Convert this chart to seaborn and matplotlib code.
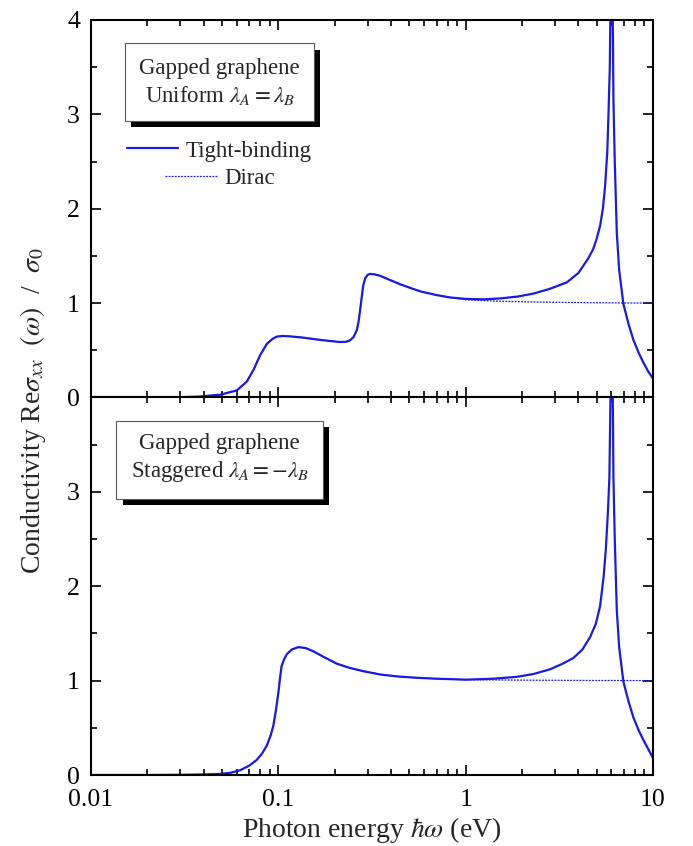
# %%
import numpy as np
import pandas as pd
import seaborn as sns
import matplotlib.pyplot as plt
import matplotlib.patheffects as pe
from matplotlib.ticker import AutoMinorLocator

# %%
# low-energy part, shared by tight-binding and Dirac (upper panel: uniform gap)
top_low_e = [0.01, 0.02, 0.03, 0.038, 0.049, 0.060, 0.068, 0.074, 0.080, 0.087,
             0.093, 0.098, 0.105, 0.115, 0.135, 0.160, 0.190, 0.213, 0.230, 0.241,
             0.252, 0.262, 0.268, 0.273, 0.279, 0.284, 0.292, 0.300, 0.309, 0.325,
             0.349, 0.40, 0.447, 0.50, 0.571, 0.70, 0.826]
top_low_s = [0.0, 0.0, 0.003, 0.01, 0.03, 0.075, 0.17, 0.30, 0.45, 0.57,
             0.62, 0.645, 0.652, 0.648, 0.635, 0.615, 0.598, 0.588, 0.590, 0.605,
             0.64, 0.71, 0.80, 0.92, 1.07, 1.19, 1.27, 1.30, 1.31, 1.305,
             1.29, 1.24, 1.20, 1.165, 1.125, 1.085, 1.06]

# high-energy part, tight-binding (van Hove peak near 6 eV)
top_tb_e = [1.0, 1.25, 1.53, 1.9, 2.29, 2.8, 3.47, 4.0, 4.5, 4.79, 5.0, 5.22,
            5.4, 5.55, 5.7, 5.78, 5.88, 5.97, 6.03, 6.1, 6.15, 6.25, 6.41, 6.6,
            6.95, 7.4, 7.86, 8.4, 8.89, 9.4, 10.0]
top_tb_s = [1.045, 1.04, 1.05, 1.07, 1.10, 1.15, 1.22, 1.32, 1.47, 1.57, 1.68, 1.82,
            2.0, 2.24, 2.6, 2.97, 3.5, 4.6, 6.0, 4.0, 3.15, 2.5, 1.74, 1.35,
            0.99, 0.78, 0.61, 0.47, 0.37, 0.28, 0.20]

# high-energy part, Dirac
top_dirac_e = [1.0, 1.5, 2.2, 3.2, 5.0, 7.0, 10.0]
top_dirac_s = [1.035, 1.02, 1.013, 1.008, 1.004, 1.002, 1.0]

# lower panel: staggered gap
bot_low_e = [0.01, 0.02, 0.03, 0.04, 0.049, 0.056, 0.0625, 0.070, 0.0767, 0.082,
             0.0867, 0.091, 0.094, 0.097, 0.100, 0.102, 0.104, 0.107, 0.111, 0.118,
             0.128, 0.140, 0.154, 0.175, 0.205, 0.24, 0.284, 0.35, 0.428, 0.55,
             0.70, 0.85]
bot_low_s = [0.0, 0.0, 0.002, 0.006, 0.012, 0.025, 0.05, 0.10, 0.16, 0.23,
             0.31, 0.42, 0.52, 0.68, 0.87, 1.02, 1.15, 1.22, 1.28, 1.33,
             1.355, 1.345, 1.31, 1.25, 1.18, 1.135, 1.10, 1.065, 1.045, 1.03,
             1.02, 1.015]

bot_tb_e = [1.0, 1.4, 1.87, 2.3, 2.82, 3.3, 3.76, 4.2, 4.61, 4.95, 5.22, 5.45,
            5.6, 5.75, 5.85, 5.95, 6.03, 6.1, 6.15, 6.25, 6.41, 6.6, 6.95, 7.4,
            7.86, 8.4, 8.89, 9.4, 10.0]
bot_tb_s = [1.01, 1.02, 1.04, 1.07, 1.12, 1.18, 1.24, 1.33, 1.46, 1.6, 1.79, 2.1,
            2.39, 2.8, 3.15, 4.2, 6.0, 4.0, 3.15, 2.5, 1.74, 1.35, 0.99, 0.78,
            0.61, 0.47, 0.37, 0.28, 0.18]

bot_dirac_e = [1.0, 2.0, 4.0, 10.0]
bot_dirac_s = [1.01, 1.005, 1.002, 1.0]

xticks = [0.01, 0.1, 1, 10]
xticklabels = ["0.01", "0.1", "1", "10"]
box_texts = ["Gapped graphene\nUniform $\\lambda_A = \\lambda_B$",
             "Gapped graphene\nStaggered $\\lambda_A = -\\lambda_B$"]

# %%
sns.set_style("ticks")
plt.rcParams["font.family"] = ["Liberation Serif", "DejaVu Serif"]
plt.rcParams["mathtext.fontset"] = "stix"

blue = "#1a1ae6"

fig, (ax1, ax2) = plt.subplots(2, 1, figsize=(6.93, 8.46), dpi=100, sharex=True)
fig.subplots_adjust(left=91 / 693, right=653 / 693, top=1 - 20 / 846,
                    bottom=1 - 775 / 846, hspace=0)

panels = [
    (ax1, top_low_e, top_low_s, top_tb_e, top_tb_s, top_dirac_e, top_dirac_s),
    (ax2, bot_low_e, bot_low_s, bot_tb_e, bot_tb_s, bot_dirac_e, bot_dirac_s),
]
box_y = [0.835, 0.838]

for i, (ax, le, ls, te, ts, de, ds) in enumerate(panels):
    dirac = pd.DataFrame({"e": le + de, "s": ls + ds})
    tb = pd.DataFrame({"e": le + te, "s": ls + ts})
    sns.lineplot(data=dirac, x="e", y="s", ax=ax, color=blue, lw=0.9,
                 linestyle=(0, (1.5, 1.0)), label="Dirac", legend=False)
    sns.lineplot(data=tb, x="e", y="s", ax=ax, color=blue, lw=1.6,
                 label="Tight-binding", legend=False)

    ax.set_xscale("log")
    ax.set_xlim(0.01, 10)
    ax.set_ylim(0, 4)
    ax.set_xlabel("")
    ax.set_ylabel("")
    ax.yaxis.set_minor_locator(AutoMinorLocator(2))
    ax.tick_params(which="both", direction="in", top=True, right=True,
                   labelsize=18.5, width=1.2, colors="black")
    ax.tick_params(which="major", length=7)
    ax.tick_params(which="minor", length=4)
    ax.tick_params(axis="y", pad=8)
    ax.tick_params(axis="x", pad=10)
    for sp in ax.spines.values():
        sp.set_linewidth(1.5)
        sp.set_color("black")

    t = ax.text(0.229, box_y[i], box_texts[i], transform=ax.transAxes,
                ha="center", va="center", fontsize=16.5, linespacing=1.3,
                bbox=dict(boxstyle="square,pad=0.62", fc="white", ec="0.35", lw=0.8))
    t.get_bbox_patch().set_path_effects([
        pe.SimplePatchShadow(offset=(4.5, -4.5), shadow_rgbFace="black", alpha=1.0),
        pe.Normal(),
    ])

ax1.set_yticks([0, 1, 2, 3, 4])
ax2.set_yticks([0, 1, 2, 3, 4], ["0", "1", "2", "3", ""])
ax2.set_xticks(xticks, xticklabels)
ax1.tick_params(labelbottom=False)

# legend entries, centred under the box
lines = ax1.get_lines()
leg1 = ax1.legend([lines[1]], ["Tight-binding"], loc="center",
                  bbox_to_anchor=(0.229, 0.653), frameon=False, fontsize=16.5,
                  handlelength=2.2, handletextpad=0.35, borderpad=0, borderaxespad=0)
ax1.add_artist(leg1)
ax1.legend([lines[0]], ["Dirac"], loc="center",
           bbox_to_anchor=(0.229, 0.580), frameon=False, fontsize=16.5,
           handlelength=2.3, handletextpad=0.3, borderpad=0, borderaxespad=0)

ax2.set_xlabel("Photon energy $\\hbar\\omega$ (eV)", fontsize=20, labelpad=3)
fig.text(0.047, 0.515,
         "Conductivity Re$\\sigma_{xx}$  $(\\omega)$  /  $\\sigma_0$",
         rotation=90, ha="center", va="center", fontsize=20)

fig.savefig("out.png", dpi=100)
